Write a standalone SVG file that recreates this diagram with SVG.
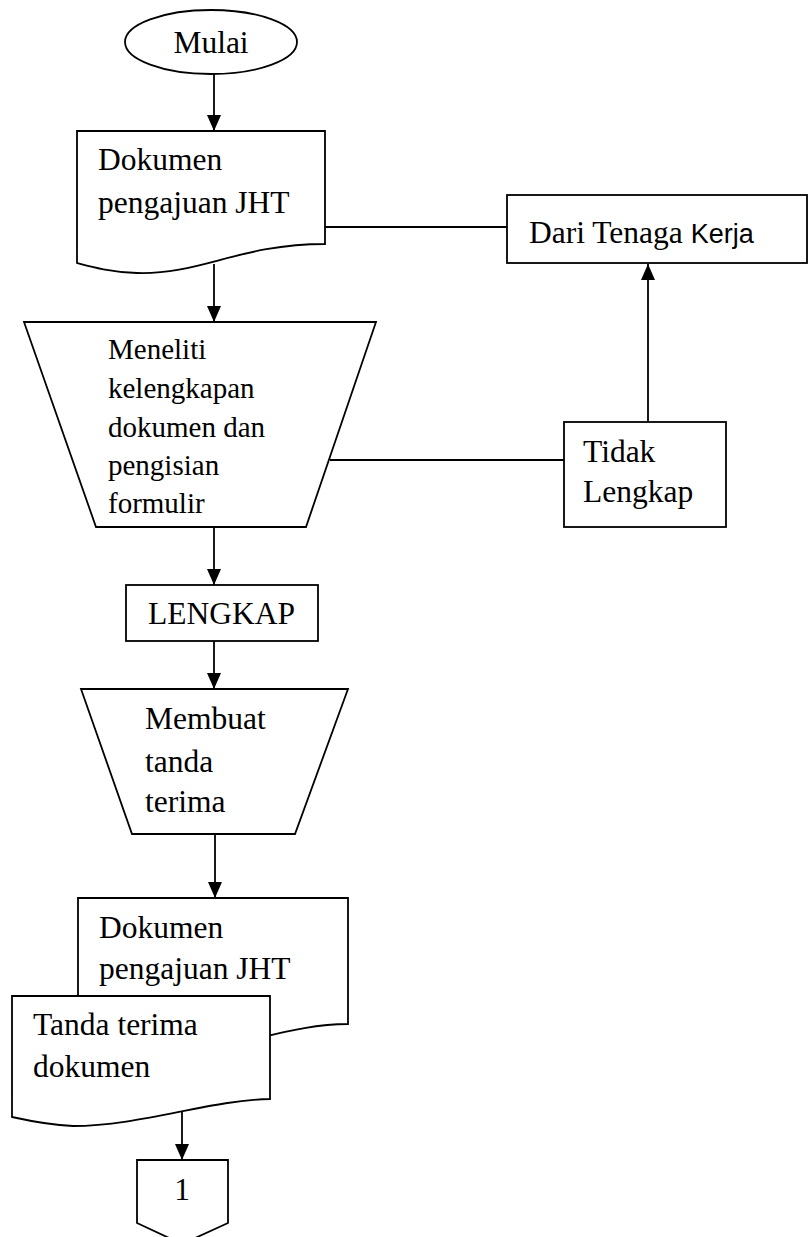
<svg xmlns="http://www.w3.org/2000/svg" width="809" height="1237" viewBox="0 0 809 1237">
<style>
.s{fill:#fff;stroke:#000;stroke-width:1.8}
.c{fill:none;stroke:#000;stroke-width:1.8}
.t{font-family:"Liberation Serif","Times New Roman",serif;font-size:31.5px;fill:#000}
.t2{font-family:"Liberation Serif","Times New Roman",serif;font-size:29px;fill:#000}
.k{font-family:"Liberation Sans",Arial,sans-serif;font-size:27px}
</style>
<defs>
<marker id="ah" markerUnits="userSpaceOnUse" viewBox="0 0 16 14" refX="16" refY="7" markerWidth="16" markerHeight="14" orient="auto">
<path d="M0,0 L16,7 L0,14 z" fill="#000"/>
</marker>
</defs>
<rect width="809" height="1237" fill="#fff"/>
<g id="connectors">
<line class="c" x1="214" y1="74" x2="214" y2="131" marker-end="url(#ah)"/>
<line class="c" x1="325" y1="227" x2="507" y2="227"/>
<line class="c" x1="214" y1="264" x2="214" y2="322" marker-end="url(#ah)"/>
<line class="c" x1="330" y1="460" x2="564" y2="460"/>
<line class="c" x1="648" y1="422" x2="648" y2="264" marker-end="url(#ah)"/>
<line class="c" x1="214" y1="527" x2="214" y2="585" marker-end="url(#ah)"/>
<line class="c" x1="214" y1="641" x2="214" y2="689" marker-end="url(#ah)"/>
<line class="c" x1="215" y1="834" x2="215" y2="898" marker-end="url(#ah)"/>
<line class="c" x1="182" y1="1112" x2="182" y2="1160" marker-end="url(#ah)"/>
</g>
<g id="mulai">
<ellipse class="s" cx="211" cy="42" rx="86" ry="32"/>
<text class="t" x="211" y="53" text-anchor="middle">Mulai</text>
</g>
<g id="doc1">
<path class="s" d="M77,131 H325 V244 C240,244 200,275 137,273 C110,272 92,267 77,263 Z"/>
<text class="t" x="98" y="170">Dokumen</text>
<text class="t" x="98" y="213">pengajuan JHT</text>
</g>
<g id="dari">
<rect class="s" x="507" y="195" width="300" height="68"/>
<text class="t" x="529" y="243">Dari Tenaga <tspan class="k">Kerja</tspan></text>
</g>
<g id="meneliti">
<polygon class="s" points="24,322 376,322 306,527 96,527"/>
<text class="t2" x="108" y="359">Meneliti</text>
<text class="t2" x="108" y="398">kelengkapan</text>
<text class="t2" x="108" y="437">dokumen dan</text>
<text class="t2" x="108" y="475">pengisian</text>
<text class="t2" x="108" y="513">formulir</text>
</g>
<g id="tidak">
<rect class="s" x="564" y="422" width="162" height="105"/>
<text class="t" x="583" y="462">Tidak</text>
<text class="t" x="583" y="502">Lengkap</text>
</g>
<g id="lengkap">
<rect class="s" x="126" y="585" width="192" height="56"/>
<text class="t" x="148" y="624">LENGKAP</text>
</g>
<g id="membuat">
<polygon class="s" points="81,689 348,689 295,834 132,834"/>
<text class="t" x="145" y="729">Membuat</text>
<text class="t" x="145" y="772">tanda</text>
<text class="t" x="145" y="812">terima</text>
</g>
<g id="doc2">
<path class="s" d="M78,898 H348 V1024 C300,1024 260,1040 200,1050 C150,1056 110,1050 78,1044 Z"/>
<text class="t" x="99" y="938">Dokumen</text>
<text class="t" x="99" y="979">pengajuan JHT</text>
</g>
<g id="doc3">
<path class="s" d="M12,996 H270 V1099 C210,1100 140,1126 73,1126 C50,1125 30,1121 12,1117 Z"/>
<text class="t" x="33" y="1035">Tanda terima</text>
<text class="t" x="33" y="1077">dokumen</text>
</g>
<g id="connector1">
<path class="s" d="M137,1160 H228 V1223 L182,1244 L137,1223 Z"/>
<text class="t" x="182" y="1200" text-anchor="middle">1</text>
</g>
</svg>
